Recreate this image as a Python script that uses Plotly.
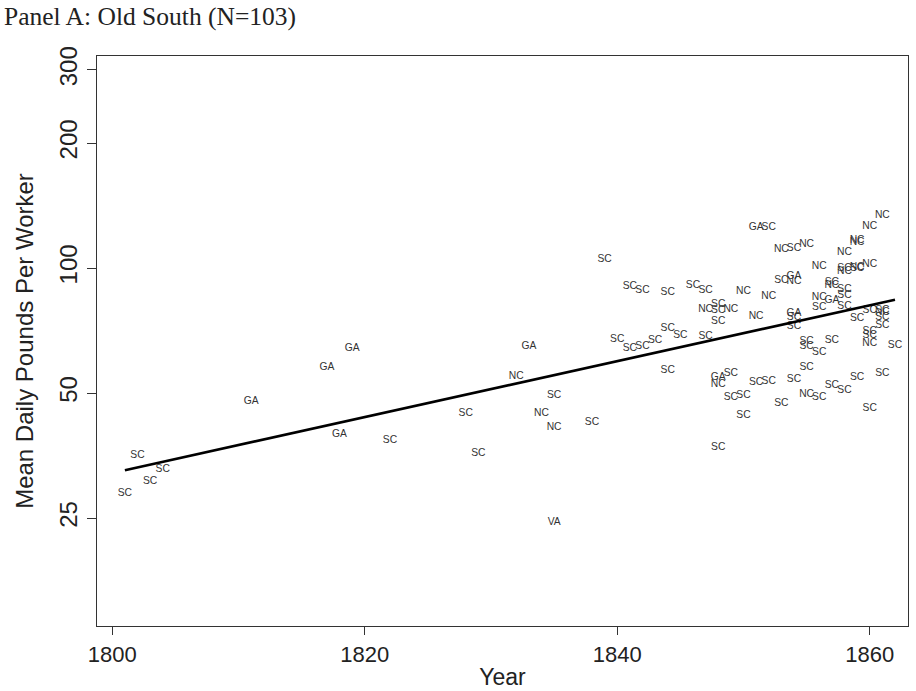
import plotly.graph_objects as go
import math

# ---- data ----
states = ["SC","SC","SC","SC","GA","GA","GA","GA","SC","SC","SC","NC","GA","NC","SC","NC","VA","SC",
          "SC","SC","SC","SC","SC","SC","SC","SC","SC","SC","SC","SC","SC","NC","SC",
          "SC","SC","SC","GA","NC","SC","NC","SC","SC","NC","SC","SC",
          "GA","NC","SC","SC","NC","SC","NC","SC","SC",
          "SC","GA","NC","GA","SC","SC","SC","NC","SC","SC","SC","NC",
          "NC","NC","SC","SC","SC","SC","NC","GA","SC","SC",
          "NC","SC","NC","SC","SC","SC","SC","NC","NC","SC","NC","SC","SC",
          "NC","NC","SC","SC","SC","NC","SC","NC","SC","NC","SC","SC","SC","SC"]
years = [1801,1802,1803,1804,1811,1817,1818,1819,1822,1828,1829,1832,1833,1834,1835,1835,1835,1838,
         1839,1840,1841,1841,1842,1842,1843,1844,1844,1844,1845,1846,1847,1847,1847,
         1848,1848,1848,1848,1848,1848,1849,1849,1849,1850,1850,1850,
         1851,1851,1851,1852,1852,1852,1853,1853,1853,
         1854,1854,1854,1854,1854,1854,1854,1855,1855,1855,1855,1855,
         1856,1856,1856,1856,1856,1857,1857,1857,1857,1857,
         1858,1858,1858,1858,1858,1858,1858,1859,1859,1859,1859,1859,1859,
         1860,1860,1860,1860,1860,1860,1860,1861,1861,1861,1861,1861,1861,1862]
values = [28.7,35.3,30.7,32.7,47.8,57.5,39.8,64.0,38.5,44.6,35.8,54.7,64.9,44.7,49.3,41.3,24.35,42.4,
          105.1,67.3,90.5,64.1,88.5,64.9,67.1,87.2,71.6,56.6,68.7,91.0,88.2,79.6,68.6,
          81.5,79.2,74.3,54.5,52.3,37.0,79.6,55.6,48.7,88.0,49.4,44.1,
          125.3,76.3,52.9,125.3,85.3,53.4,110.9,93.6,47.2,
          111.5,95.7,92.7,77.8,76.1,72.5,53.9,114.0,66.7,64.9,57.5,49.5,
          100.7,84.8,80.4,62.7,48.8,92.2,91.0,83.7,66.8,52.1,
          108.9,100.0,98.1,88.9,86.1,81.0,50.8,116.8,115.3,100.0,100.6,75.7,54.4,
          125.7,102.2,79.2,70.3,69.0,65.9,45.9,134.2,79.2,78.3,75.9,72.6,55.8,65.0]

fit_years = [1801, 1862]
fit_values = [32.6, 83.9]

x_ticks = [1800, 1820, 1840, 1860]
y_ticks = [25, 50, 100, 200, 300]
y_tick_labels = ["25", "50", "100", "200", "300"]

title_text = "Panel A: Old South (N=103)"
x_title = "Year"
y_title = "Mean Daily Pounds Per Worker"

# ---- figure ----
fig = go.Figure()
fig.add_trace(go.Scatter(
    x=years, y=values, text=states, mode="text",
    textposition="middle center",
    textfont=dict(family="Liberation Sans, Arial, sans-serif", size=10.3, color="#333333"),
    hoverinfo="x+y+text", showlegend=False))
fig.add_trace(go.Scatter(
    x=fit_years, y=fit_values, mode="lines",
    line=dict(color="#000000", width=2.6), showlegend=False))

sans = "Liberation Sans, Arial, sans-serif"
axis_font = dict(family=sans, size=22, color="#222222")
fig.update_layout(
    width=916, height=691,
    margin=dict(l=97, r=8, t=56, b=65),
    paper_bgcolor="white", plot_bgcolor="white",
    font=axis_font,
    annotations=[dict(
        text=title_text, xref="paper", yref="paper",
        x=(2 - 97) / 811, y=(626 - 16) / 570, xanchor="left", yanchor="middle",
        showarrow=False,
        font=dict(family="Liberation Serif, Times New Roman, serif", size=25.5, color="#222222"))],
)
fig.update_xaxes(
    range=[1798.79, 1863.03], tickvals=x_ticks, ticks="outside", ticklen=8,
    tickwidth=1.3, tickcolor="#333333", showgrid=False, zeroline=False,
    showline=True, linecolor="#333333", linewidth=1.3, mirror=True, automargin=False,
    tickfont=axis_font, title=dict(text=x_title, font=dict(family=sans, size=23, color="#222222"), standoff=3))
fig.update_yaxes(
    type="log", range=[math.log10(13.74), math.log10(324)],
    tickvals=y_ticks, ticktext=y_tick_labels, tickangle=-90,
    ticks="outside", ticklen=9, tickwidth=1.3, tickcolor="#333333",
    showgrid=False, zeroline=False, automargin=False,
    showline=True, linecolor="#333333", linewidth=1.3, mirror=True,
    tickfont=dict(family=sans, size=24, color="#222222"),
    title=dict(text=y_title, font=dict(family=sans, size=24, color="#222222"), standoff=14))

fig.write_html("out.html", config={"displayModeBar": False},
               post_script="document.body.style.margin='0';document.body.style.overflow='hidden';")
